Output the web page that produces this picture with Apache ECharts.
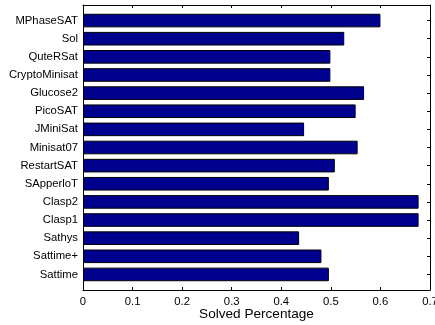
<!DOCTYPE html>
<html>
<head>
<meta charset="utf-8">
<script src="https://cdn.jsdelivr.net/npm/echarts@6/dist/echarts.min.js"></script>
<style>
  html, body { margin: 0; padding: 0; background: #fff; }
  #chart { width: 435px; height: 325px; }
</style>
</head>
<body>
<div id="chart"></div>
<script>
// Solvers, listed top to bottom
const solvers = ['MPhaseSAT', 'Sol', 'QuteRSat', 'CryptoMinisat', 'Glucose2', 'PicoSAT',
  'JMiniSat', 'Minisat07', 'RestartSAT', 'SApperloT', 'Clasp2', 'Clasp1',
  'Sathys', 'Sattime+', 'Sattime'];
// Fraction of instances solved by each solver
const solvedPct = [0.600, 0.527, 0.499, 0.499, 0.567, 0.550,
  0.446, 0.554, 0.508, 0.496, 0.677, 0.677,
  0.436, 0.481, 0.496];
const xTicks = [0, 0.1, 0.2, 0.3, 0.4, 0.5, 0.6, 0.7];

const font = 'Liberation Sans, Arial, sans-serif';
const chart = echarts.init(document.getElementById('chart'), null, { renderer: 'canvas' });

const blackLine = { color: '#000', width: 1 };
const innerTick = { show: true, inside: true, length: 3, lineStyle: blackLine };
const xMin = xTicks[0], xMax = xTicks[xTicks.length - 1];

chart.setOption({
  animation: false,
  backgroundColor: '#fff',
  grid: [
    // grid 0: the bars, inset a little from the box vertically
    { left: 83, right: 5, top: 11.5, bottom: 41.5, outerBoundsMode: 'none' },
    // grid 1: the surrounding box with the value axes
    { left: 83, right: 5, top: 5, bottom: 35, outerBoundsMode: 'none' }
  ],
  xAxis: [
    { gridIndex: 0, type: 'value', min: xMin, max: xMax, interval: 0.1, show: false },
    {
      gridIndex: 1, type: 'value', position: 'bottom', min: xMin, max: xMax, interval: 0.1,
      axisLine: { show: true, onZero: false, lineStyle: blackLine },
      axisTick: innerTick, splitLine: { show: false },
      axisLabel: { color: '#000', fontFamily: font, fontSize: 11.3, margin: 6,
        formatter: v => String(+v.toFixed(1)) },
      name: 'Solved Percentage', nameLocation: 'middle', nameGap: 17, nameMoveOverlap: false,
      nameTextStyle: { color: '#000', fontFamily: font, fontSize: 13.6 }
    },
    {
      gridIndex: 1, type: 'value', position: 'top', min: xMin, max: xMax, interval: 0.1,
      axisLine: { show: true, onZero: false, lineStyle: blackLine },
      axisTick: innerTick, splitLine: { show: false }, axisLabel: { show: false }
    }
  ],
  yAxis: [
    {
      gridIndex: 0, type: 'category', position: 'left', inverse: true, data: solvers,
      axisLine: { show: false }, axisTick: { show: false }, splitLine: { show: false },
      axisLabel: { color: '#000', fontFamily: font, fontSize: 11.3, margin: 5, interval: 0 }
    },
    {
      gridIndex: 0, type: 'category', position: 'right', inverse: true, data: solvers,
      axisLine: { show: false },
      axisTick: { show: true, inside: true, length: 3, alignWithLabel: true, interval: 0, lineStyle: blackLine },
      splitLine: { show: false }, axisLabel: { show: false }
    },
    {
      gridIndex: 1, type: 'value', position: 'left', min: 0, max: 1,
      axisLine: { show: true, onZero: false, lineStyle: blackLine },
      axisTick: { show: false }, axisLabel: { show: false }, splitLine: { show: false }
    },
    {
      gridIndex: 1, type: 'value', position: 'right', min: 0, max: 1,
      axisLine: { show: true, onZero: false, lineStyle: blackLine },
      axisTick: { show: false }, axisLabel: { show: false }, splitLine: { show: false }
    }
  ],
  series: [{
    type: 'bar',
    xAxisIndex: 0, yAxisIndex: 0,
    data: solvedPct,
    barWidth: '75%',
    itemStyle: { color: '#00008f', borderColor: '#000', borderWidth: 1 }
  }]
});
</script>
</body>
</html>
